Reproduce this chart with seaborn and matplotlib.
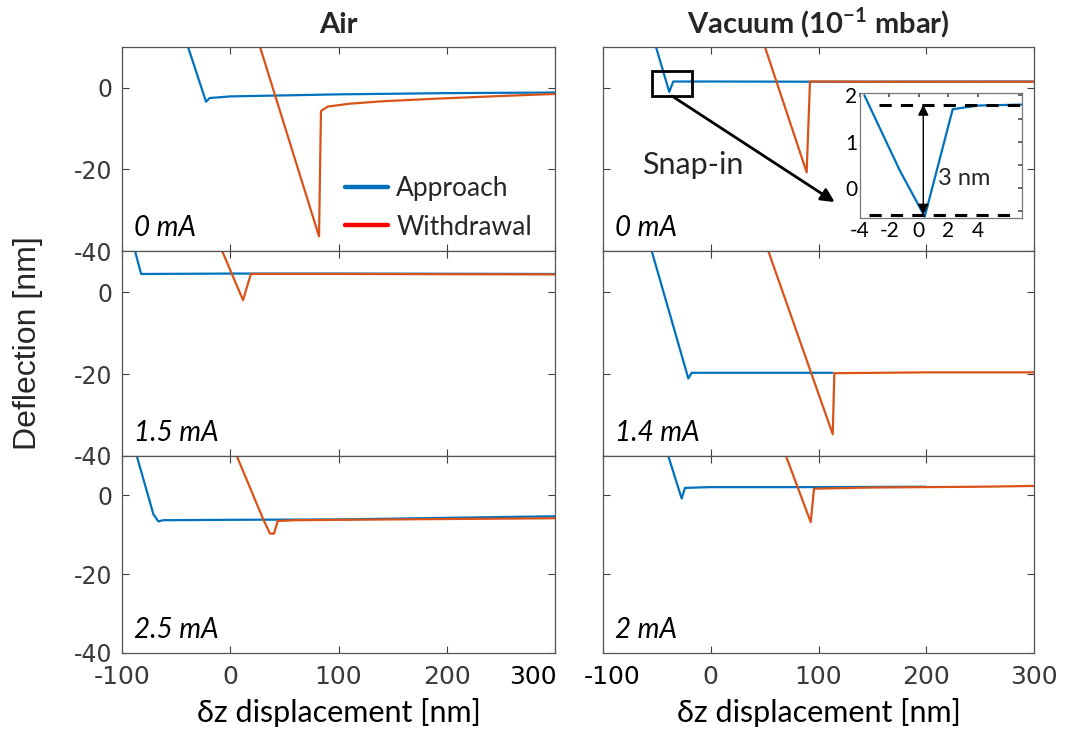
import numpy as np
import pandas as pd
import seaborn as sns
import matplotlib.pyplot as plt
import matplotlib.transforms as mtransforms
from matplotlib.lines import Line2D
from matplotlib.patches import Rectangle

# approach / withdrawal curves (x: dz [nm], y: deflection [nm])
air_0_app_x = [-39, -22.4, -19, 0, 100, 200, 300]
air_0_app_y = [10, -3.4, -2.5, -2.1, -1.6, -1.3, -1.15]
air_0_wd_x = [27.5, 82, 83.8, 90, 110, 140, 187, 250, 300]
air_0_wd_y = [10, -36.4, -5.7, -4.6, -3.9, -3.3, -2.7, -2.0, -1.5]

air_15_app_x = [-88, -82.4, 0, 100, 300]
air_15_app_y = [10, 4.4, 4.5, 4.5, 4.4]
air_15_wd_x = [-7.5, 11.8, 19, 100, 300]
air_15_wd_y = [10, -2.0, 4.4, 4.4, 4.3]

air_25_app_x = [-86.4, -71, -66.4, -62, 0, 100, 200, 300]
air_25_app_y = [10, -4.8, -6.6, -6.3, -6.2, -6.1, -5.7, -5.3]
air_25_wd_x = [6, 30.5, 36.7, 40.4, 43.8, 60, 100, 200, 300]
air_25_wd_y = [10, -6.1, -9.7, -9.7, -6.5, -6.3, -6.2, -6.0, -5.8]

vac_0_app_x = [-50.8, -38.5, -34.8, 0, 100, 300]
vac_0_app_y = [10, -1.0, 1.55, 1.55, 1.5, 1.55]
vac_0_wd_x = [50.3, 89, 92.1, 150, 300]
vac_0_wd_y = [10, -20.7, 1.55, 1.5, 1.5]

vac_14_app_x = [-54.8, -20.8, -17.7, 0, 113]
vac_14_app_y = [10, -21.1, -19.7, -19.7, -19.7]
vac_14_wd_x = [53.4, 113.2, 114.7, 200, 300]
vac_14_wd_y = [10, -34.7, -19.8, -19.6, -19.6]

vac_2_app_x = [-39.4, -27, -23.9, 0, 100, 200]
vac_2_app_y = [10, -0.8, 1.9, 2.1, 2.1, 2.2]
vac_2_wd_x = [69.8, 92.8, 95.8, 150, 250, 300]
vac_2_wd_y = [10, -6.8, 1.7, 2.0, 2.2, 2.4]

# zoomed snap-in inset
inset_x = [-3.7, -1.3, 0.4, 2.3, 4, 7]
inset_y = [2.0, 0.38, -0.62, 1.7, 1.78, 1.8]

titles = ["Air", r"Vacuum (10$^{\mathbf{-1}}$ mbar)"]
currents = [["0 mA", "1.5 mA", "2.5 mA"], ["0 mA", "1.4 mA", "2 mA"]]
curves = [
    [(air_0_app_x, air_0_app_y, air_0_wd_x, air_0_wd_y),
     (air_15_app_x, air_15_app_y, air_15_wd_x, air_15_wd_y),
     (air_25_app_x, air_25_app_y, air_25_wd_x, air_25_wd_y)],
    [(vac_0_app_x, vac_0_app_y, vac_0_wd_x, vac_0_wd_y),
     (vac_14_app_x, vac_14_app_y, vac_14_wd_x, vac_14_wd_y),
     (vac_2_app_x, vac_2_app_y, vac_2_wd_x, vac_2_wd_y)],
]

blue = "#0072BD"
orange = "#D95319"
tick_gray = "#404040"

sns.set_theme(style="white")
plt.rcParams["font.family"] = ["Lato", "DejaVu Sans"]
plt.rcParams["mathtext.fontset"] = "custom"
plt.rcParams["mathtext.rm"] = "Lato"
plt.rcParams["mathtext.bf"] = "Lato:bold"
plt.rcParams["axes.unicode_minus"] = False

fig = plt.figure(figsize=(10.65, 7.35), dpi=100)
hr = [204, 205, 197]
gs_left = fig.add_gridspec(3, 1, left=0.1146, right=0.5211, top=0.936, bottom=0.1116,
                           hspace=0, height_ratios=hr)
gs_right = fig.add_gridspec(3, 1, left=0.5662, right=0.9709, top=0.936, bottom=0.1116,
                            hspace=0, height_ratios=hr)

axes = [[fig.add_subplot(gs_left[r]) for r in range(3)],
        [fig.add_subplot(gs_right[r]) for r in range(3)]]

for c in range(2):
    for r in range(3):
        ax = axes[c][r]
        ax_x, ax_y, wd_x, wd_y = curves[c][r]
        app = pd.DataFrame({"x": ax_x, "y": ax_y})
        wd = pd.DataFrame({"x": wd_x, "y": wd_y})
        sns.lineplot(data=app, x="x", y="y", ax=ax, color=blue, lw=1.6,
                     sort=False, estimator=None)
        sns.lineplot(data=wd, x="x", y="y", ax=ax, color=orange, lw=1.6,
                     sort=False, estimator=None)
        ax.set_xlim(-100, 300)
        ax.set_ylim(-40, 10)
        ax.set_xticks([-100, 0, 100, 200, 300])
        ax.set_yticks([-40, -20, 0])
        ax.set_xlabel("")
        ax.set_ylabel("")
        ax.tick_params(direction="in", length=5, width=0.8, top=True, right=True,
                       bottom=True, left=True, colors=tick_gray, labelsize=17,
                       labelcolor="#3a3a3a")
        ax.tick_params(axis="x", pad=9, labelsize=18)
        ax.tick_params(axis="y", pad=7)
        for s in ax.spines.values():
            s.set_color("#555555")
            s.set_linewidth(0.9)
        if c == 1:
            ax.set_yticklabels([])
        if r < 2:
            ax.set_xticklabels([])
        else:
            ax.set_xlabel("\u03b4z displacement [nm]", fontsize=22, color="black",
                          labelpad=6)
        for lab in ax.get_xticklabels() + ax.get_yticklabels():
            lab.set_family(["DejaVu Sans"])
        ax.text(0.028, 0.075, currents[c][r], transform=ax.transAxes, fontsize=20,
                style="italic", color="black", ha="left", va="baseline")
    axes[c][0].set_title(titles[c], fontsize=21, fontweight="bold", pad=10)

# the touching "300" / "-100" labels are nudged apart, as in the original
lab_300 = axes[0][2].get_xticklabels()[-1]
lab_300.set_transform(lab_300.get_transform() +
                      mtransforms.ScaledTranslation(-0.22, 0, fig.dpi_scale_trans))
lab_300.set_color("black")
lab_m100 = axes[1][2].get_xticklabels()[0]
lab_m100.set_transform(lab_m100.get_transform() +
                       mtransforms.ScaledTranslation(0.09, 0, fig.dpi_scale_trans))
lab_m100.set_color("black")

# legend in the first panel
handles = [Line2D([], [], color=blue, lw=3.2), Line2D([], [], color="#FF0000", lw=3.2)]
axes[0][0].legend(handles, ["Approach", "Withdrawal"], loc="lower left",
                  bbox_to_anchor=(0.46, -0.06), frameon=False, fontsize=19,
                  handlelength=1.65, handletextpad=0.3, labelspacing=0.5)

# snap-in marker and arrow
ax = axes[1][0]
ax.add_patch(Rectangle((-54.5, -2.0), 37, 6.2, fill=False, ec="black", lw=2, zorder=5))
ax.annotate("", xy=(115, -28), xytext=(-36, -2.0),
            arrowprops=dict(arrowstyle="-|>", color="black", lw=2,
                            mutation_scale=20, shrinkA=0, shrinkB=0))
ax.text(-17, -19, "Snap-in", fontsize=22, ha="center", va="center")

# inset
ins = fig.add_axes([0.8075, 0.7034, 0.152, 0.170])
inset_df = pd.DataFrame({"x": inset_x, "y": inset_y})
sns.lineplot(data=inset_df, x="x", y="y", ax=ins, color=blue, lw=1.6,
             sort=False, estimator=None)
ins.set_xlim(-3.6, 7)
ins.set_ylim(-0.65, 2.05)
ins.set_xticks([-4, -2, 0, 2, 4])
ins.set_yticks([-0.5, 0, 0.5, 1, 1.5, 2])
ins.set_yticklabels(["", "0", "", "1", "", "2"])
ins.set_xlabel("")
ins.set_ylabel("")
ins.tick_params(direction="in", length=3, top=True, right=True, labelsize=15,
                colors="#555555", labelcolor="black", pad=2)
for s in ins.spines.values():
    s.set_color("#777777")
    s.set_linewidth(0.9)
ins.hlines([1.8], -2.7, 7, colors="black", linestyles=(0, (4, 3)), lw=2.2)
ins.hlines([-0.58], -3.4, 6.6, colors="black", linestyles=(0, (4, 3)), lw=2.2)
ins.annotate("", xy=(0.3, -0.58), xytext=(0.3, 1.8),
             arrowprops=dict(arrowstyle="<|-|>", color="black", lw=1,
                             mutation_scale=16, shrinkA=0, shrinkB=0))
ins.text(1.3, 0.2, "3 nm", fontsize=17, ha="left", va="center")

fig.text(0.026, 0.533, "Deflection [nm]", rotation=90, fontsize=23,
         family=["Liberation Sans", "DejaVu Sans"], ha="center", va="center")

fig.savefig("out.png", dpi=100)
